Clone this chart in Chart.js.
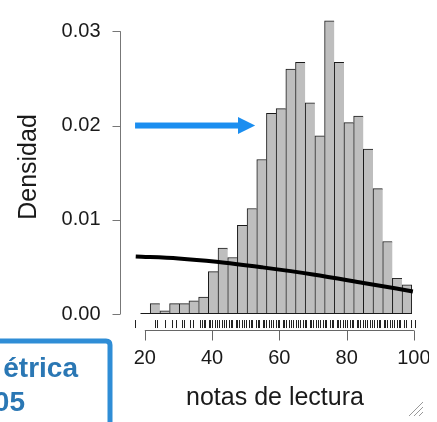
<!DOCTYPE html>
<html>
<head>
<meta charset="utf-8">
<script src="https://cdn.jsdelivr.net/npm/chart.js@4"></script>
<style>
  html, body { margin: 0; padding: 0; background: #fff; }
</style>
</head>
<body>
<canvas id="histChart" width="437" height="422"></canvas>
<script>
// histograma de notas de lectura + densidad
const binEdges = [18.72, 21.60, 24.48, 27.36, 30.24, 33.12, 36.00, 38.88, 41.76, 44.64,
                  47.52, 50.40, 53.28, 56.16, 59.04, 61.92, 64.80, 67.68, 70.56, 73.44,
                  76.32, 79.20, 82.08, 84.96, 87.84, 90.72, 93.60, 96.48, 99.36];
const densities = [0, 0.0011, 0.00035, 0.0011, 0.0011, 0.0014, 0.0018, 0.0045, 0.0070, 0.0060,
                   0.0094, 0.0112, 0.0164, 0.0213, 0.0218, 0.0260, 0.0267, 0.0224, 0.0189, 0.0311,
                   0.0267, 0.0203, 0.0210, 0.0175, 0.0133, 0.0077, 0.0038, 0.0031];

const curveX = [17.3, 30, 41.3, 55, 70, 85, 99.7];
const curveY = [0.0061, 0.0059, 0.00555, 0.00495, 0.0042, 0.0033, 0.0024];

const rugValues = [17.0, 23.0, 23.5, 26.0, 28.0, 29.4, 31.2, 31.7, 33.4, 34.2, 36.4,
  37, 37.5, 38, 39, 39.5, 40, 41, 41.5, 42, 43, 43.5, 44, 45, 45.5, 46, 47, 47.5, 48, 49, 49.5,
  50, 51, 51.5, 52, 53, 53.5, 54, 55, 55.5, 56, 57, 57.5, 58, 59, 59.5, 60, 61, 61.5, 62, 63, 63.5,
  64, 65, 65.5, 66, 67, 67.5, 68, 69, 69.5, 70, 71, 71.5, 72, 73, 73.5, 74, 75, 75.5, 76, 77, 77.5,
  78, 79, 79.5, 80, 81, 81.5, 82, 83, 83.5, 84, 85, 85.5, 86, 87, 87.5, 88, 89, 89.5, 90, 91, 91.5,
  92, 93, 93.5, 94, 95, 95.5, 96, 97, 97.5, 99.2, 100.2];

const xTicks = [20, 40, 60, 80, 100];
const yTicks = [0, 0.01, 0.02, 0.03];
const yTickLabels = ['0.00', '0.01', '0.02', '0.03'];
const xTitle = 'notas de lectura';
const yTitle = 'Densidad';

const FONT = "'Liberation Sans', Arial, sans-serif";

const barPoints = densities.map((d, i) => ({ x: (binEdges[i] + binEdges[i + 1]) / 2, y: d }));
const curvePoints = curveX.map((x, i) => ({ x: x, y: curveY[i] }));
const lastBar = densities.length - 1;

// ejes al estilo R, rug, flecha y recuadro
const rStyle = {
  id: 'rStyle',
  afterDraw(chart) {
    const ctx = chart.ctx;
    const xs = chart.scales.x, ys = chart.scales.y;
    const y0 = ys.getPixelForValue(0);
    const left = chart.chartArea.left;
    ctx.save();

    // linea base del histograma
    ctx.strokeStyle = '#1a1a1a';
    ctx.lineWidth = 1;
    ctx.beginPath();
    ctx.moveTo(xs.getPixelForValue(binEdges[0]), Math.round(y0) - 0.5);
    ctx.lineTo(xs.getPixelForValue(binEdges[binEdges.length - 1]), Math.round(y0) - 0.5);
    ctx.stroke();

    // rug
    ctx.strokeStyle = '#222';
    rugValues.forEach(v => {
      const px = Math.round(xs.getPixelForValue(v)) + 0.5;
      ctx.beginPath();
      ctx.moveTo(px, y0 + 6);
      ctx.lineTo(px, y0 + 14);
      ctx.stroke();
    });

    // eje x
    const ax = Math.round(y0 + 16) + 0.5;
    ctx.strokeStyle = '#666';
    ctx.beginPath();
    ctx.moveTo(xs.getPixelForValue(xTicks[0]), ax);
    ctx.lineTo(xs.getPixelForValue(xTicks[xTicks.length - 1]), ax);
    xTicks.forEach(t => {
      const px = Math.round(xs.getPixelForValue(t)) + 0.5;
      ctx.moveTo(px, ax);
      ctx.lineTo(px, ax + 10);
    });
    ctx.stroke();
    ctx.save();
    ctx.beginPath();
    ctx.rect(0, 0, 429, 422);
    ctx.clip();
    ctx.fillStyle = '#1a1a1a';
    ctx.font = '20px ' + FONT;
    ctx.textAlign = 'center';
    ctx.textBaseline = 'middle';
    xTicks.forEach(t => ctx.fillText(String(t), xs.getPixelForValue(t), y0 + 44));
    ctx.restore();
    ctx.fillStyle = '#1a1a1a';
    ctx.font = '25px ' + FONT;
    ctx.textAlign = 'center';
    ctx.textBaseline = 'middle';
    ctx.fillText(xTitle, 275, y0 + 84);

    // eje y
    const ayx = left - 8 + 0.5;
    ctx.strokeStyle = '#777';
    ctx.beginPath();
    ctx.moveTo(ayx, ys.getPixelForValue(yTicks[0]));
    ctx.lineTo(ayx, ys.getPixelForValue(yTicks[yTicks.length - 1]));
    yTicks.forEach(t => {
      const py = Math.round(ys.getPixelForValue(t)) + 0.5;
      ctx.moveTo(ayx, py);
      ctx.lineTo(ayx - 8, py);
    });
    ctx.stroke();
    ctx.font = '20px ' + FONT;
    ctx.textAlign = 'right';
    yTicks.forEach((t, i) => ctx.fillText(yTickLabels[i], ayx - 20, ys.getPixelForValue(t)));
    ctx.save();
    ctx.translate(29, 167);
    ctx.rotate(-Math.PI / 2);
    ctx.font = '25px ' + FONT;
    ctx.textAlign = 'center';
    ctx.fillText(yTitle, 0, 0);
    ctx.restore();

    // flecha azul
    const ay = ys.getPixelForValue(0.02);
    const x1 = xs.getPixelForValue(17.1), xh = xs.getPixelForValue(47.7), x2 = xs.getPixelForValue(52.8);
    ctx.fillStyle = '#1b8ef0';
    ctx.fillRect(x1, ay - 3, xh - x1 + 1, 6);
    ctx.beginPath();
    ctx.moveTo(xh, ay - 8.5);
    ctx.lineTo(x2, ay);
    ctx.lineTo(xh, ay + 8.5);
    ctx.closePath();
    ctx.fill();

    // recuadro de la diapositiva
    ctx.strokeStyle = '#2f8dd6';
    ctx.lineWidth = 5;
    ctx.beginPath();
    ctx.moveTo(-10, 341);
    ctx.lineTo(106, 341);
    ctx.quadraticCurveTo(110, 341, 110, 345);
    ctx.lineTo(110, 430);
    ctx.stroke();
    ctx.fillStyle = '#2a77b4';
    ctx.font = 'bold 28px ' + FONT;
    ctx.textAlign = 'right';
    ctx.textBaseline = 'alphabetic';
    ctx.fillText('étrica', 78, 377);
    ctx.fillText('05', 25, 411);

    // asa de redimension
    ctx.strokeStyle = '#999';
    ctx.lineWidth = 1;
    ctx.beginPath();
    ctx.moveTo(409, 416); ctx.lineTo(423, 402);
    ctx.moveTo(414, 416); ctx.lineTo(423, 407);
    ctx.moveTo(419, 416); ctx.lineTo(423, 412);
    ctx.stroke();

    ctx.restore();
  }
};

const histChart = new Chart(document.getElementById('histChart'), {
  data: {
    datasets: [{
      type: 'line',
      order: 0,
      data: curvePoints,
      borderColor: '#000',
      borderWidth: 4,
      pointRadius: 0,
      fill: false,
      cubicInterpolationMode: 'monotone'
    }, {
      type: 'bar',
      order: 1,
      data: barPoints,
      backgroundColor: '#bebebe',
      borderColor: '#1a1a1a',
      borderWidth: ctx => ctx.dataIndex === lastBar
        ? { top: 1, left: 1, right: 1, bottom: 0 }
        : { top: 1, left: 1, right: 0, bottom: 0 },
      borderSkipped: false,
      barPercentage: 1,
      categoryPercentage: 1,
      grouped: false
    }]
  },
  options: {
    responsive: false,
    animation: false,
    events: [],
    layout: { padding: { left: 128, top: 3, right: 13, bottom: 91 } },
    scales: {
      x: { type: 'linear', min: 15, max: 103, offset: false, display: false },
      y: { type: 'linear', min: -0.0018, max: 0.033, display: false }
    },
    plugins: {
      legend: { display: false },
      tooltip: { enabled: false }
    }
  },
  plugins: [rStyle]
});
</script>
</body>
</html>
